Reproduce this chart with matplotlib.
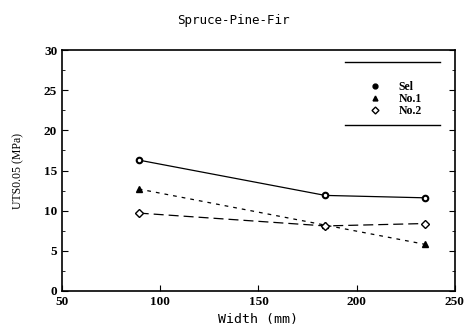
import matplotlib.pyplot as plt
from matplotlib.lines import Line2D
from matplotlib.ticker import MultipleLocator

width = [89, 184, 235]
sel = [16.3, 11.9, 11.6]
no1 = [12.7, 8.2, 5.8]
no2 = [9.7, 8.1, 8.4]

plt.rcParams['font.family'] = ['Liberation Serif', 'DejaVu Serif']
plt.rcParams['font.weight'] = 'bold'

fig = plt.figure(figsize=(4.67, 3.36), dpi=100)
ax = fig.add_axes([0.133, 0.134, 0.841, 0.717])

ax.plot(width, sel, color='black', lw=0.9, ls='-', marker='o', ms=4,
        mfc='white', mec='black', mew=1.5)
ax.plot(width, no1, color='black', lw=0.9, ls=(0, (3, 4)), marker='^', ms=4,
        mfc='black', mec='black')
ax.plot(width, no2, color='black', lw=0.9, ls=(0, (8, 4)), marker='D', ms=4,
        mfc='white', mec='black', mew=1)

ax.set_xlim(50, 250)
ax.set_ylim(0, 30)
ax.xaxis.set_major_locator(MultipleLocator(50))
ax.yaxis.set_major_locator(MultipleLocator(5))
ax.yaxis.set_minor_locator(MultipleLocator(2.5))
ax.tick_params(direction='in', which='both', right=True, labelsize=9.5)
ax.tick_params(which='major', length=4)
ax.tick_params(which='minor', length=2)
for s in ax.spines.values():
    s.set_linewidth(1.2)

ax.set_xlabel('Width (mm)', fontsize=9.5, family='DejaVu Sans Mono')
ax.set_ylabel('UTS0.05 (MPa)', fontsize=8.5, labelpad=14)
fig.text(0.5, 0.93, 'Spruce-Pine-Fir', ha='center', fontsize=9,
         family='DejaVu Sans Mono', weight='normal')

handles = [
    Line2D([], [], ls='none', marker='o', ms=3.5, mfc='black', mec='black'),
    Line2D([], [], ls='none', marker='^', ms=3.5, mfc='black', mec='black'),
    Line2D([], [], ls='none', marker='D', ms=3.5, mfc='white', mec='black'),
]
ax.legend(handles, ['Sel', 'No.1', 'No.2'], frameon=False, loc='upper left',
          bbox_to_anchor=(0.781, 0.872), fontsize=8.5, labelspacing=0.0,
          handlelength=1, handletextpad=1.5, borderpad=0, borderaxespad=0)
ax.plot([0.72, 0.962], [0.95, 0.95], color='black', lw=1, transform=ax.transAxes)
ax.plot([0.72, 0.962], [0.689, 0.689], color='black', lw=1, transform=ax.transAxes)

fig.savefig('out.png', dpi=100)
